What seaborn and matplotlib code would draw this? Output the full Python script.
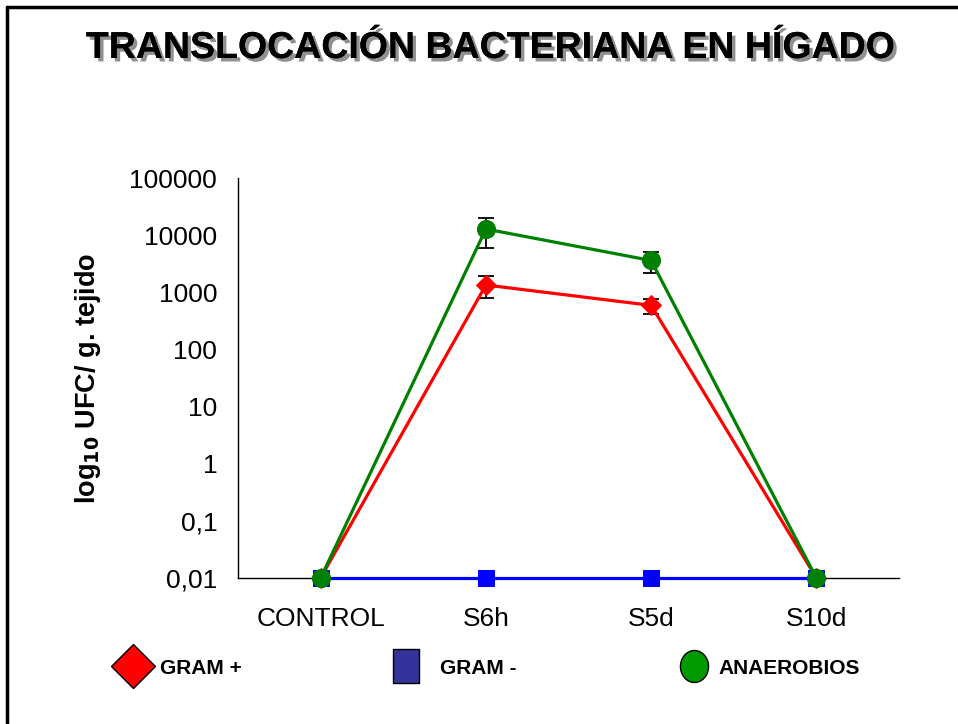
import numpy as np
import pandas as pd
import matplotlib.pyplot as plt
import seaborn as sns
from matplotlib.lines import Line2D
from matplotlib import patheffects

# datos
grupos = ['CONTROL', 'S6h', 'S5d', 'S10d']
gram_pos = [0.01, 1340, 590, 0.01]
gram_pos_err = [0, 550, 180, 0]
gram_neg = [0.01, 0.01, 0.01, 0.01]
anaerobios = [0.01, 12800, 3600, 0.01]
anaerobios_err = [0, 6800, 1450, 0]
series = ['GRAM +', 'GRAM -', 'ANAEROBIOS']
yticks = [0.01, 0.1, 1, 10, 100, 1000, 10000, 100000]
ytick_labels = ['0,01', '0,1', '1', '10', '100', '1000', '10000', '100000']

df = pd.DataFrame({
    'grupo': grupos * 3,
    'valor': gram_pos + gram_neg + anaerobios,
    'serie': [s for s in series for _ in grupos],
})

sns.set_style('white')
plt.rcParams['font.family'] = ['Liberation Sans', 'DejaVu Sans']
plt.rcParams['text.color'] = 'black'
plt.rcParams['axes.labelcolor'] = 'black'
plt.rcParams['xtick.color'] = 'black'
plt.rcParams['ytick.color'] = 'black'

fig = plt.figure(figsize=(9.58, 7.24), dpi=100)
ax = fig.add_axes([238 / 958, 1 - 578 / 724, (899 - 238) / 958, 400 / 724])

colores = {'GRAM +': '#FF0000', 'GRAM -': '#0000FF', 'ANAEROBIOS': '#008000'}
marcadores = {'GRAM +': 'D', 'GRAM -': 's', 'ANAEROBIOS': 'o'}
tamanos = {'GRAM +': 10, 'GRAM -': 11, 'ANAEROBIOS': 13}
orden = [('GRAM +', 2), ('GRAM -', 3), ('ANAEROBIOS', 4)]

for s, z in orden:
    sub = df[df['serie'] == s]
    sns.lineplot(data=sub, x='grupo', y='valor', color=colores[s],
                 marker=marcadores[s], markersize=tamanos[s],
                 markeredgecolor=colores[s], linewidth=2.3, ax=ax,
                 zorder=z, legend=False, clip_on=False)

x = np.arange(len(grupos))
ax.errorbar(x[1:3], gram_pos[1:3], yerr=gram_pos_err[1:3], fmt='none',
            ecolor='black', elinewidth=1.3, capsize=6, capthick=1.3, zorder=1)
ax.errorbar(x[1:3], anaerobios[1:3], yerr=anaerobios_err[1:3], fmt='none',
            ecolor='black', elinewidth=1.3, capsize=6, capthick=1.3, zorder=1)

ax.set_yscale('log')
ax.set_ylim(0.01, 100000)
ax.set_xlim(-0.5, 3.5)
ax.set_yticks(yticks)
ax.set_yticklabels(ytick_labels)
ax.minorticks_off()
ax.set_xticks([-0.5, 0.5, 1.5, 2.5, 3.5])
ax.set_xticklabels([])
ax.set_xticks(x, minor=True)
ax.set_xticklabels(grupos, minor=True)
ax.tick_params(axis='x', which='major', direction='out', length=8, width=1, color='black')
ax.tick_params(axis='x', which='minor', length=0, pad=21, labelsize=19)
ax.tick_params(axis='y', direction='out', length=8, width=1, color='black', labelsize=19, pad=7)
for sp in ['top', 'right']:
    ax.spines[sp].set_visible(False)
for sp in ['left', 'bottom']:
    ax.spines[sp].set_color('black')
    ax.spines[sp].set_linewidth(1)
ax.set_xlabel('')
ax.set_ylabel('log$_{\\mathbf{10}}$ UFC/ g. tejido', fontsize=19.5, fontweight='bold', labelpad=19)

titulo = fig.text(490 / 958, 1 - 48 / 724, 'TRANSLOCACIÓN BACTERIANA EN HÍGADO',
                  ha='center', va='center', fontsize=27, fontweight='bold', color='black')
titulo.set_path_effects([patheffects.withSimplePatchShadow(offset=(2.5, -2.5),
                                                           shadow_rgbFace='#909090', alpha=1),
                         patheffects.Normal()])

# leyenda
rect = [(-0.38, -0.5), (0.38, -0.5), (0.38, 0.5), (-0.38, 0.5), (-0.38, -0.5)]
t = np.linspace(0, 2 * np.pi, 60)
elipse = list(zip(0.44 * np.cos(t), 0.5 * np.sin(t)))
ley_colores = ['#FF0000', '#333399', '#009900']
ley_marcas = ['D', rect, elipse]
ley_tam = [22.4, 23.8, 23]
ley_x = [111.7, 384.7, 673.2]
ley_pad = [0.32, 0.65, 0.15]
for s, c, m, tm, lx, hp in zip(series, ley_colores, ley_marcas, ley_tam, ley_x, ley_pad):
    h = Line2D([], [], linestyle='none', marker=m, markersize=tm,
               markerfacecolor=c, markeredgecolor='black', markeredgewidth=1)
    fig.legend([h], [s], loc='center left', bbox_to_anchor=(lx / 958, 1 - 668 / 724),
               frameon=False, borderpad=0, borderaxespad=0, handletextpad=hp,
               handlelength=2, prop={'weight': 'bold', 'size': 15})

# marco
fig.add_artist(Line2D([7 / 958, 7 / 958], [0, 1 - 7 / 724], color='black', linewidth=2.5))
fig.add_artist(Line2D([7 / 958, 1], [1 - 7 / 724, 1 - 7 / 724], color='black', linewidth=2.5))

fig.savefig('out.png', dpi=100)
